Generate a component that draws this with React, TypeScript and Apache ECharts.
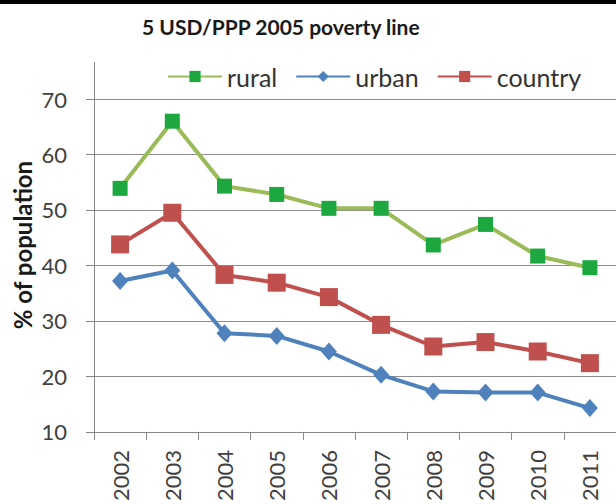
import React, { useEffect, useRef } from "react";
import * as echarts from "echarts";

const years = ["2002", "2003", "2004", "2005", "2006", "2007", "2008", "2009", "2010", "2011"];
const rural = [53.9, 66.0, 54.3, 52.8, 50.3, 50.3, 43.7, 47.4, 41.7, 39.6];
const urban = [37.2, 39.1, 27.8, 27.3, 24.5, 20.3, 17.3, 17.1, 17.1, 14.3];
const country = [43.8, 49.5, 38.3, 36.9, 34.3, 29.3, 25.4, 26.2, 24.5, 22.4];

const FONT = "Lato, 'Open Sans', sans-serif";

export default function App() {
  const ref = useRef<HTMLDivElement>(null);
  useEffect(() => {
    if (!ref.current) return;
    const chart = echarts.init(ref.current, null, { renderer: "svg" });
    chart.setOption({
      animation: false,
      backgroundColor: "#ffffff",
      title: {
        text: "5 USD/PPP 2005 poverty line",
        left: 137,
        top: 11,
        textStyle: { fontFamily: FONT, fontSize: 21, fontWeight: "bold", color: "#1a1a1a" },
      },
      legend: {
        left: 162,
        top: 59,
        itemWidth: 54,
        itemHeight: 14,
        itemGap: 18,
        textStyle: { fontFamily: FONT, fontSize: 25, color: "#333333" },
        data: ["rural", "urban", "country"],
      },
      grid: { left: 94, top: 99, width: 524, height: 334, containLabel: false },
      xAxis: {
        type: "category",
        data: years,
        boundaryGap: true,
        axisLine: { show: true, lineStyle: { color: "#888888", width: 1 } },
        axisTick: { show: true, length: 8, interval: 0, lineStyle: { color: "#888888" } },
        axisLabel: {
          rotate: 90,
          interval: 0,
          margin: 18,
          fontFamily: FONT,
          fontSize: 22,
          color: "#404040",
        },
      },
      yAxis: {
        type: "value",
        min: 10,
        max: 70,
        interval: 10,
        axisLine: { show: true, lineStyle: { color: "#888888", width: 1 } },
        axisTick: { show: true, length: 8, lineStyle: { color: "#888888" } },
        axisLabel: { margin: 27, fontFamily: FONT, fontSize: 22, color: "#404040" },
        splitLine: { show: true, lineStyle: { color: "#8c8c8c", width: 1 } },
      },
      graphic: [
        { type: "rect", shape: { x: 0, y: 0, width: 616, height: 4 }, style: { fill: "#000000" } },
        { type: "line", shape: { x1: 94.5, y1: 62, x2: 94.5, y2: 99 }, style: { stroke: "#888888", lineWidth: 1 } },
        {
          type: "text",
          x: 22,
          y: 245,
          rotation: Math.PI / 2,
          style: {
            text: "% of population",
            fontFamily: FONT,
            fontSize: 24,
            fontWeight: "bold",
            fill: "#1a1a1a",
            align: "center",
            verticalAlign: "middle",
          },
        },
      ],
      series: [
        {
          name: "rural",
          type: "line",
          data: rural,
          symbol: "rect",
          symbolSize: 15,
          lineStyle: { color: "#9BBB59", width: 4 },
          itemStyle: { color: "#1DA83F" },
        },
        {
          name: "urban",
          type: "line",
          data: urban,
          symbol: "diamond",
          symbolSize: [16, 18],
          lineStyle: { color: "#4F81BD", width: 4 },
          itemStyle: { color: "#4F81BD" },
        },
        {
          name: "country",
          type: "line",
          data: country,
          symbol: "rect",
          symbolSize: 18,
          lineStyle: { color: "#C0504D", width: 4 },
          itemStyle: { color: "#C0504D" },
        },
      ],
    });
    return () => chart.dispose();
  }, []);
  return (
    <div
      ref={ref}
      style={{ position: "fixed", left: 0, top: 0, width: 616, height: 504 }}
    />
  );
}
